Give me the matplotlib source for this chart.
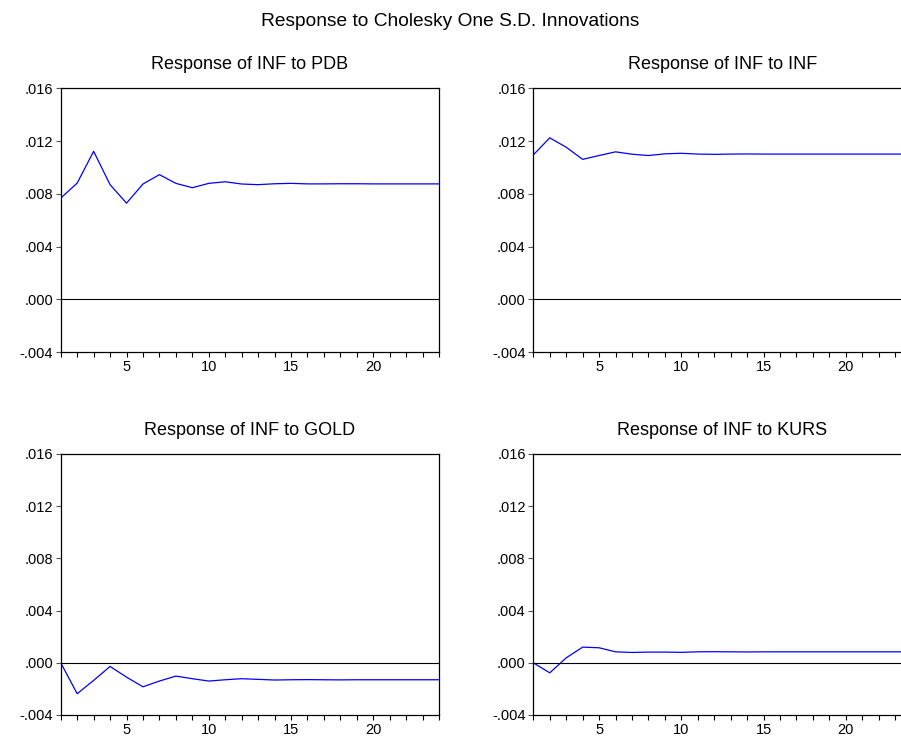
import matplotlib
matplotlib.use("Agg")
import matplotlib.pyplot as plt
from matplotlib.ticker import FixedLocator, MultipleLocator

plt.rcParams['font.family'] = ['Liberation Sans', 'DejaVu Sans']

periods = list(range(1, 25))

# responses of INF
resp_pdb = [0.00767, 0.00881, 0.01122, 0.00869, 0.00729, 0.00874, 0.00945, 0.00879,
            0.00846, 0.00879, 0.00891, 0.00874, 0.00869, 0.00876, 0.00879, 0.00875,
            0.00875, 0.00876, 0.00876, 0.00875, 0.00875, 0.00875, 0.00875, 0.00875]
resp_inf = [0.01095, 0.01224, 0.01153, 0.01061, 0.01090, 0.01118, 0.01100, 0.01090,
            0.01103, 0.01107, 0.01101, 0.01099, 0.01101, 0.01102, 0.01101, 0.01101,
            0.01101, 0.01101, 0.01101, 0.01101, 0.01101, 0.01101, 0.01101, 0.01101]
resp_gold = [0.0, -0.00237, -0.00135, -0.00028, -0.00110, -0.00184, -0.00140, -0.00102,
             -0.00122, -0.00140, -0.00130, -0.00122, -0.00127, -0.00132, -0.00130, -0.00129,
             -0.00130, -0.00131, -0.00130, -0.00130, -0.00130, -0.00130, -0.00130, -0.00130]
resp_kurs = [0.0, -0.00077, 0.00038, 0.00120, 0.00115, 0.00084, 0.00079, 0.00082,
             0.00082, 0.00080, 0.00084, 0.00085, 0.00084, 0.00083, 0.00084, 0.00084,
             0.00084, 0.00084, 0.00084, 0.00084, 0.00084, 0.00084, 0.00084, 0.00084]

titles = ["Response of INF to PDB", "Response of INF to INF",
          "Response of INF to GOLD", "Response of INF to KURS"]
series = [resp_pdb, resp_inf, resp_gold, resp_kurs]

y_ticks = [-0.004, 0.000, 0.004, 0.008, 0.012, 0.016]
y_labels = ["-.004", ".000", ".004", ".008", ".012", ".016"]
x_ticks = [5, 10, 15, 20]

fig = plt.figure(figsize=(9.01, 7.40), dpi=100)
fig.text(0.5, 0.9716, "Response to Cholesky One S.D. Innovations",
         ha="center", va="center", fontsize=13.8)

# axes boxes in figure fractions (right column runs past the edge, as in the original)
boxes = [[0.0674, 0.5243, 0.4199, 0.3564],
         [0.5919, 0.5243, 0.4199, 0.3564],
         [0.0674, 0.0338, 0.4199, 0.3527],
         [0.5919, 0.0338, 0.4199, 0.3527]]

for box, title, vals in zip(boxes, titles, series):
    ax = fig.add_axes(box)
    ax.plot(periods, vals, color="#0000ff", lw=0.9)
    ax.axhline(0, color="black", lw=0.8)
    ax.set_xlim(1, 24)
    ax.set_ylim(-0.004, 0.016)
    ax.set_yticks(y_ticks)
    ax.set_yticklabels(y_labels)
    ax.xaxis.set_major_locator(FixedLocator(x_ticks))
    ax.xaxis.set_minor_locator(MultipleLocator(1))
    ax.tick_params(axis="both", which="both", direction="out", length=3.5,
                   width=0.8, labelsize=10.5, pad=2)
    ax.tick_params(axis="y", color="#555555")
    ax.tick_params(axis="x", which="both", top=False)
    for sp in ax.spines.values():
        sp.set_linewidth(0.9)
    ax.set_title(title, fontsize=13, pad=14)

fig.savefig("out.png", dpi=100)
